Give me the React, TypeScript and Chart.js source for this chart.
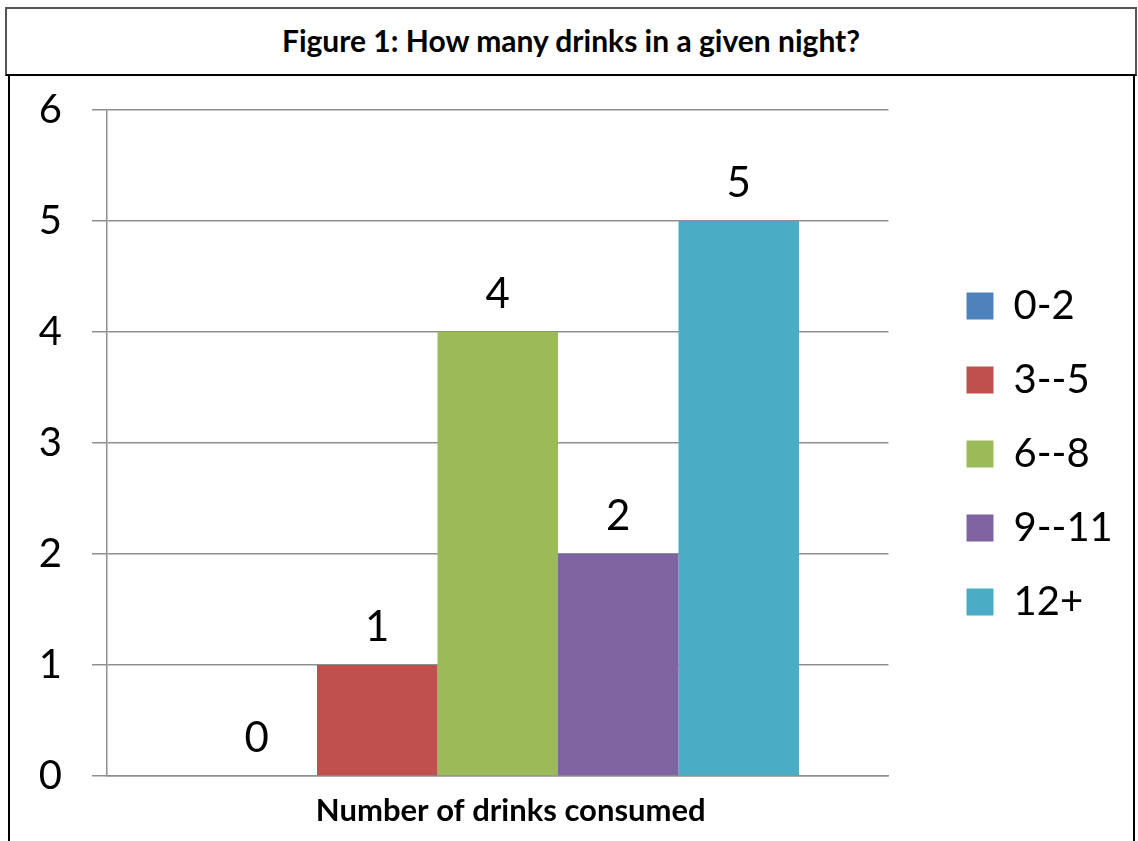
import React, { useEffect, useRef } from "react";
import { Chart, registerables } from "chart.js";

Chart.register(...registerables);

const chartTitle = "Figure 1: How many drinks in a given night?";
const categories = ["Number of drinks consumed"];
const seriesNames = ["0-2", "3--5", "6--8", "9--11", "12+"];
const seriesValues = [0, 1, 4, 2, 5];
const seriesColors = ["#4F81BD", "#C0504D", "#9BBB59", "#8064A2", "#4BACC6"];
const yMin = 0;
const yMax = 6;
const yStep = 1;

const FONT = "Lato";

const dataLabelPlugin = {
  id: "dataLabels",
  afterDatasetsDraw(chart: any) {
    const ctx = chart.ctx;
    ctx.save();
    ctx.font = `42px ${FONT}`;
    ctx.fillStyle = "#000";
    ctx.textAlign = "center";
    ctx.textBaseline = "alphabetic";
    chart.data.datasets.forEach((ds: any, i: number) => {
      const meta = chart.getDatasetMeta(i);
      meta.data.forEach((bar: any, j: number) => {
        ctx.fillText(String(ds.data[j]), bar.x, bar.y - 24);
      });
    });
    ctx.restore();
  },
};

export default function App() {
  const ref = useRef<HTMLCanvasElement | null>(null);

  useEffect(() => {
    document.body.style.margin = "0";
    const canvas = ref.current;
    if (!canvas) return;
    const chart = new Chart(canvas, {
      type: "bar",
      data: {
        labels: categories,
        datasets: seriesNames.map((name, i) => ({
          label: name,
          data: [seriesValues[i]],
          backgroundColor: seriesColors[i],
          borderWidth: 0,
          categoryPercentage: 0.771,
          barPercentage: 1,
        })),
      },
      options: {
        responsive: false,
        animation: false,
        devicePixelRatio: 1,
        layout: { padding: { top: 34, bottom: 0, left: 0, right: 16 } },
        plugins: {
          title: { display: false },
          tooltip: { enabled: false },
          legend: {
            position: "right",
            align: "center",
            fullSize: false,
            title: { display: true, text: "", font: { size: 22, lineHeight: 1 }, padding: 0 },
            labels: {
              boxWidth: 27,
              boxHeight: 27,
              padding: 34,
              color: "#000",
              font: { family: FONT, size: 40 },
            },
          },
        },
        scales: {
          x: {
            type: "category",
            grid: { display: false },
            border: { display: true, color: "#8f8f8f", width: 1.5 },
            ticks: {
              color: "#000",
              padding: 8,
              labelOffset: 13,
              autoSkip: false,
              maxRotation: 0,
              minRotation: 0,
              font: { family: FONT, size: 31, weight: "bold" },
            },
            afterFit: (s: any) => {
              s.height = 65;
            },
          },
          y: {
            min: yMin,
            max: yMax,
            ticks: {
              stepSize: yStep,
              color: "#000",
              padding: 30,
              font: { family: FONT, size: 40 },
            },
            grid: { color: "#8f8f8f", lineWidth: 1.5, tickLength: 15 },
            border: { display: true, color: "#8f8f8f", width: 1.5 },
            afterFit: (s: any) => {
              s.width = 97;
              s.paddingTop = 0;
              s.paddingBottom = 0;
            },
          },
          gap: {
            type: "linear",
            position: "right",
            display: true,
            grid: { display: false },
            border: { display: false },
            ticks: { display: false },
            afterFit: (s: any) => {
              s.width = 44;
            },
          },
        },
      },
      plugins: [dataLabelPlugin],
    } as any);
    return () => chart.destroy();
  }, []);

  return (
    <div style={{ position: "absolute", left: 0, top: 0, width: 1138, height: 841, overflow: "hidden", background: "#fff" }}>
      <div
        style={{
          position: "absolute",
          left: 5,
          top: 7,
          width: 1128,
          height: 65,
          borderTop: "2px solid #555",
          borderLeft: "2px solid #555",
          borderRight: "2px solid #555",
          borderBottom: "2px solid #000",
          display: "flex",
          alignItems: "center",
          justifyContent: "center",
          fontFamily: FONT,
          fontWeight: "bold",
          fontSize: 30,
          color: "#000",
        }}
      >
        <span style={{ position: "relative", top: -2 }}>{chartTitle}</span>
      </div>
      <div
        style={{
          position: "absolute",
          left: 8,
          top: 76,
          width: 1123,
          height: 800,
          borderLeft: "2px solid #000",
          borderRight: "2px solid #000",
        }}
      >
        <canvas ref={ref} width={1123} height={765} style={{ display: "block" }} />
      </div>
    </div>
  );
}
